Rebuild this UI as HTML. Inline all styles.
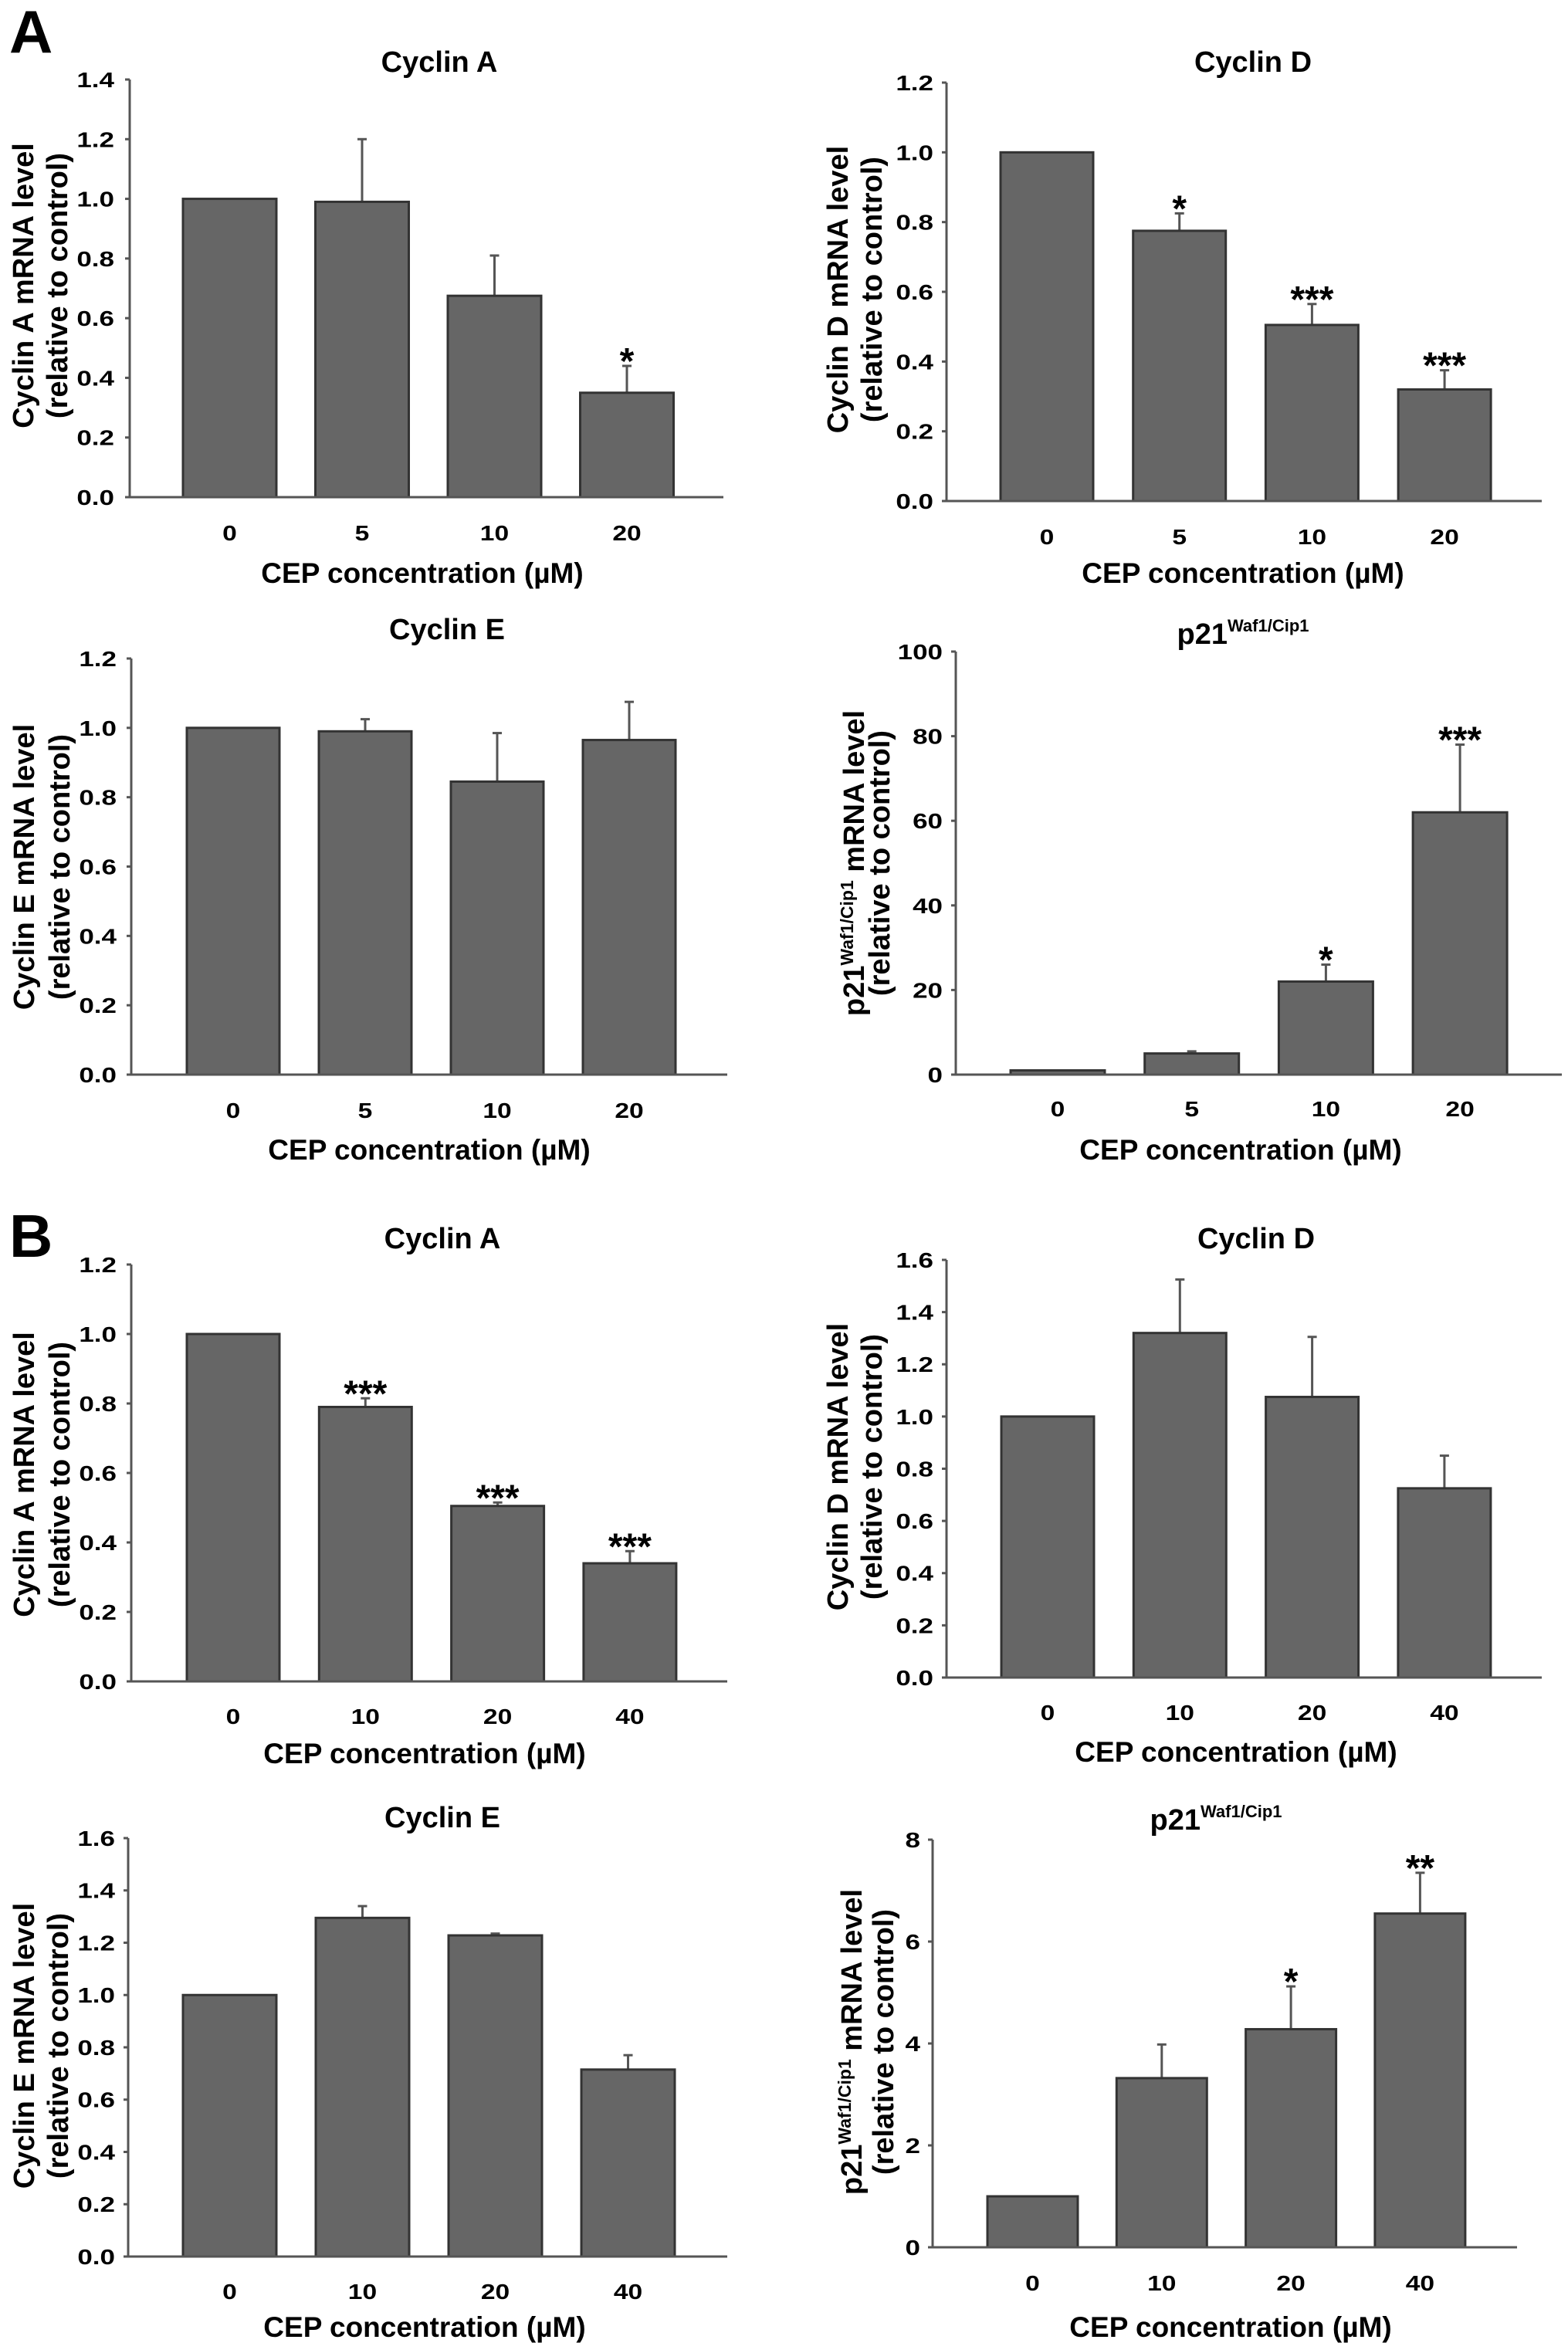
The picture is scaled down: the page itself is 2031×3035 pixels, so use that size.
<!DOCTYPE html>
<html><head><meta charset="utf-8">
<style>
html,body{margin:0;padding:0;background:#fff;}
svg{display:block;font-family:"Liberation Sans",Arial,sans-serif;}
</style></head>
<body>
<svg id="fig" width="2031" height="3035" viewBox="0 0 2031 3035" xmlns="http://www.w3.org/2000/svg">
<rect width="2031" height="3035" fill="#fff"/>
<text x="12" y="68" font-size="78" font-weight="bold">A</text>
<text x="12" y="1628" font-size="78" font-weight="bold">B</text>
</svg>
<script>
// ---- data ----
const catsA = ["0","5","10","20"];
const catsB = ["0","10","20","40"];
const aaValues = [1.0, 0.99, 0.675, 0.35];
const aaErrors = [null, 1.2, 0.81, 0.44];
const aaStars = ["", "", "", "*"];
const aaTicks = ["0.0","0.2","0.4","0.6","0.8","1.0","1.2","1.4"];
const adValues = [1.0, 0.775, 0.505, 0.32];
const adErrors = [null, 0.825, 0.565, 0.375];
const adStars = ["", "*", "***", "***"];
const adTicks = ["0.0","0.2","0.4","0.6","0.8","1.0","1.2"];
const aeValues = [1.0, 0.99, 0.845, 0.965];
const aeErrors = [null, 1.025, 0.985, 1.075];
const aeStars = ["", "", "", ""];
const aeTicks = ["0.0","0.2","0.4","0.6","0.8","1.0","1.2"];
const apValues = [1, 5, 22, 62];
const apErrors = [null, 5.5, 26, 78];
const apStars = ["", "", "*", "***"];
const apTicks = ["0","20","40","60","80","100"];
const baValues = [1.0, 0.79, 0.505, 0.34];
const baErrors = [null, 0.815, 0.515, 0.375];
const baStars = ["", "***", "***", "***"];
const baTicks = ["0.0","0.2","0.4","0.6","0.8","1.0","1.2"];
const bdValues = [1.0, 1.32, 1.075, 0.725];
const bdErrors = [null, 1.525, 1.305, 0.85];
const bdStars = ["", "", "", ""];
const bdTicks = ["0.0","0.2","0.4","0.6","0.8","1.0","1.2","1.4","1.6"];
const beValues = [1.0, 1.295, 1.228, 0.715];
const beErrors = [null, 1.34, 1.235, 0.77];
const beStars = ["", "", "", ""];
const beTicks = ["0.0","0.2","0.4","0.6","0.8","1.0","1.2","1.4","1.6"];
const bpValues = [1, 3.32, 4.28, 6.55];
const bpErrors = [null, 3.98, 5.12, 7.35];
const bpStars = ["", "", "*", "**"];
const bpTicks = ["0","2","4","6","8"];

// ---- layout (pixels) ----
const panels = [
 {id:"a-cyclin-a",title:"Cyclin A",gene:"Cyclin A",cats:catsA,v:aaValues,e:aaErrors,s:aaStars,t:aaTicks,
  x0:168,x1:937,yTop:103,yBot:644,bar0:237,barStep:171.5,barW:121,titleX:569,titleY:93,xlY:690,xtX:547,xtY:742,ytX:[30,74],ytY:370,tlX:148},
 {id:"a-cyclin-d",title:"Cyclin D",gene:"Cyclin D",cats:catsA,v:adValues,e:adErrors,s:adStars,t:adTicks,
  x0:1226,x1:1997,yTop:107,yBot:649,bar0:1296,barStep:171.7,barW:120,titleX:1623,titleY:93,xlY:695,xtX:1610,xtY:742,ytX:[1085,1129],ytY:375,tlX:1209},
 {id:"a-cyclin-e",title:"Cyclin E",gene:"Cyclin E",cats:catsA,v:aeValues,e:aeErrors,s:aeStars,t:aeTicks,
  x0:170,x1:942,yTop:853,yBot:1392,bar0:242,barStep:171,barW:120,titleX:579,titleY:828,xlY:1438,xtX:556,xtY:1489,ytX:[31,77],ytY:1123,tlX:151},
 {id:"a-p21",title:"p21",gene:"p21",cats:catsA,v:apValues,e:apErrors,s:apStars,t:apTicks,p21:true,
  x0:1238,x1:2023,yTop:844,yBot:1392,bar0:1309,barStep:173.7,barW:122,titleX:1610,titleY:834,xlY:1436,xtX:1607,xtY:1489,ytX:[1106,1139],ytY:1118,tlX:1221},
 {id:"b-cyclin-a",title:"Cyclin A",gene:"Cyclin A",cats:catsB,v:baValues,e:baErrors,s:baStars,t:baTicks,
  x0:170,x1:942,yTop:1638,yBot:2178,bar0:242,barStep:171.3,barW:120,titleX:573,titleY:1617,xlY:2223,xtX:550,xtY:2271,ytX:[31,77],ytY:1910,tlX:151},
 {id:"b-cyclin-d",title:"Cyclin D",gene:"Cyclin D",cats:catsB,v:bdValues,e:bdErrors,s:bdStars,t:bdTicks,
  x0:1226,x1:1997,yTop:1632,yBot:2173,bar0:1297,barStep:171.3,barW:120,titleX:1627,titleY:1617,xlY:2218,xtX:1601,xtY:2269,ytX:[1085,1129],ytY:1900,tlX:1209},
 {id:"b-cyclin-e",title:"Cyclin E",gene:"Cyclin E",cats:catsB,v:beValues,e:beErrors,s:beStars,t:beTicks,
  x0:166,x1:942,yTop:2381,yBot:2923,bar0:237,barStep:172,barW:121,titleX:573,titleY:2367,xlY:2968,xtX:550,xtY:3014,ytX:[31,75],ytY:2650,tlX:149},
 {id:"b-p21",title:"p21",gene:"p21",cats:catsB,v:bpValues,e:bpErrors,s:bpStars,t:bpTicks,p21:true,
  x0:1208,x1:1965,yTop:2383,yBot:2911,bar0:1279,barStep:167.3,barW:117,titleX:1575,titleY:2370,xlY:2957,xtX:1594,xtY:3014,ytX:[1103,1144],ytY:2645,tlX:1192}
];

const NS="http://www.w3.org/2000/svg";
const svg=document.getElementById("fig");
function mk(tag,attrs,parent,text){
  const el=document.createElementNS(NS,tag);
  for(const k in attrs) el.setAttribute(k,attrs[k]);
  if(text!==undefined) el.textContent=text;
  parent.appendChild(el);
  return el;
}
panels.forEach(p=>{
  const g=mk("g",{},svg);
  
  
  const tMin=parseFloat(p.t[0]), tMax=parseFloat(p.t[p.t.length-1]);
  const y=v=>p.yBot-(v-tMin)/(tMax-tMin)*(p.yBot-p.yTop);
  const tt=mk("text",{x:p.titleX,y:p.titleY,"font-size":38,"font-weight":"bold","text-anchor":"middle"},g);
  
  
  if(p.p21){
    mk("tspan",{},tt,"p21");
    mk("tspan",{"font-size":22,dy:-16},tt,"Waf1/Cip1");
  } else tt.textContent=p.title;
  const ya=mk("line",{x1:p.x0,y1:p.yTop,x2:p.x0,y2:p.yBot,stroke:"#555","stroke-width":3},g);
  
  
  p.t.forEach(lbl=>{
    const yy=y(parseFloat(lbl));
    const tk=mk("line",{x1:p.x0-6,y1:yy,x2:p.x0,y2:yy,stroke:"#555","stroke-width":3},g);
    
    
    const tl=mk("text",{x:p.tlX,y:yy+10,"font-size":28,"font-weight":"bold","text-anchor":"end",transform:`translate(${p.tlX},0) scale(1.25,1) translate(${-p.tlX},0)`},g,lbl);
    
    
  });
  p.v.forEach((v,i)=>{
    const bx=p.bar0+i*p.barStep, by=y(v);
    const cx=bx+p.barW/2;
    if(p.e[i]!==null){
      const ey=y(p.e[i]);
      const el=mk("line",{x1:cx,y1:by,x2:cx,y2:ey,stroke:"#555","stroke-width":3},g);
      
      
      const cap=mk("line",{x1:cx-6,y1:ey,x2:cx+6,y2:ey,stroke:"#555","stroke-width":3},g);
      
      
    }
    const r=mk("rect",{x:bx,y:by,width:p.barW,height:p.yBot-by,fill:"#666",stroke:"#333","stroke-width":3},g);
    
    
    if(p.s[i]){
      const top=p.e[i]!==null?y(p.e[i]):by;
      const st=mk("text",{x:cx,y:top+10,"font-size":48,"font-weight":"bold","text-anchor":"middle"},g,p.s[i]);
      
      
    }
    const xl=mk("text",{x:cx,y:p.xlY+10,"font-size":28,"font-weight":"bold","text-anchor":"middle",transform:`translate(${cx},0) scale(1.2,1) translate(${-cx},0)`},g,p.cats[i]);
    
    
  });
  const xa=mk("line",{x1:p.x0,y1:p.yBot,x2:p.x1,y2:p.yBot,stroke:"#555","stroke-width":3},g);
  
  
  const xt=mk("text",{x:p.xtX,y:p.xtY+13,"font-size":37,"font-weight":"bold","text-anchor":"middle"},g,"CEP concentration (\u00b5M)");
  
  
  const yg=mk("g",{transform:`rotate(-90 ${p.ytX[0]} ${p.ytY})`},g);
  
  
  const l1=mk("text",{x:p.ytX[0],y:p.ytY+13,"font-size":38,"font-weight":"bold","text-anchor":"middle"},yg);
  if(p.p21){
    mk("tspan",{},l1,"p21");
    mk("tspan",{"font-size":23,dy:-14},l1,"Waf1/Cip1");
    mk("tspan",{dy:14},l1," mRNA level");
  } else l1.textContent=p.gene+" mRNA level";
  const dx=p.ytX[1]-p.ytX[0];
  mk("text",{x:p.ytX[0],y:p.ytY+13+dx,"font-size":38,"font-weight":"bold","text-anchor":"middle"},yg,"(relative to control)");
});
</script>
</body></html>
